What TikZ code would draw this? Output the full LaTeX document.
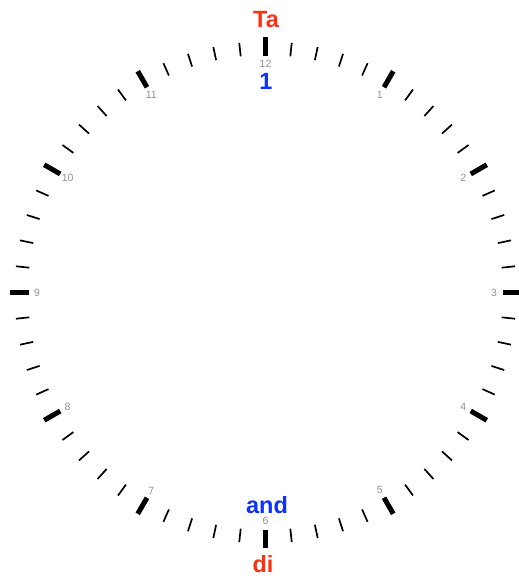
\documentclass[tikz,border=0pt]{standalone}
\usepackage{fontspec}
\setmainfont{Liberation Sans}
\usetikzlibrary{calc}
\definecolor{tred}{RGB}{250,50,20}
\definecolor{tblue}{RGB}{15,50,250}
\definecolor{numgray}{RGB}{145,145,145}
\begin{document}
\begin{tikzpicture}[x=1pt,y=-1pt,
  minortick/.style={line width=1.7pt},
  majortick/.style={line width=5pt},
  hournum/.style={text=numgray,font=\fontsize{10.5}{10.5}\selectfont,inner sep=0pt},
  word/.style={font=\fontsize{23.5}{23.5}\bfseries\selectfont,inner sep=0pt}]
\useasboundingbox (0,0) rectangle (519,581);
\coordinate (c) at (265.5,292.5);
\foreach \h/\n in {0/12,1/1,2/2,3/3,4/4,5/5,6/6,7/7,8/8,9/9,10/10,11/11}{
  \draw[majortick] ($(c)+({237*sin(30*\h)},{-237*cos(30*\h)})$) -- ($(c)+({255.5*sin(30*\h)},{-255.5*cos(30*\h)})$);
  \node[hournum] (n\h) at ($(c)+({228.5*sin(30*\h)},{-228.5*cos(30*\h)})$) {\n};
  \foreach \m in {1,...,4}{
    \draw[minortick] ($(c)+({237.5*sin(30*\h+6*\m)},{-237.5*cos(30*\h+6*\m)})$) -- ($(c)+({251*sin(30*\h+6*\m)},{-251*cos(30*\h+6*\m)})$);
  }
}
\node[word,text=tred] (ta) at (266,20) {Ta};
\node[word,text=tblue] (one) at (266,81) {1};
\node[word,text=tblue] (and) at (267,505.5) {and};
\node[word,text=tred] (di) at (263,564.5) {di};
\end{tikzpicture}
\end{document}
